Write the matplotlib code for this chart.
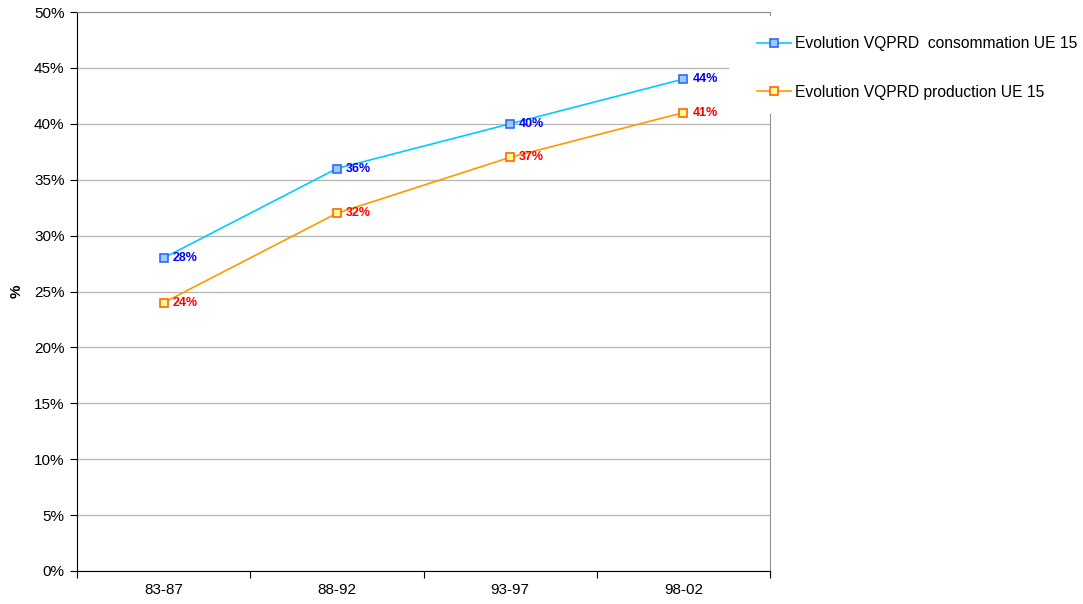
import matplotlib
matplotlib.use("Agg")
import matplotlib.pyplot as plt
from matplotlib.patches import Rectangle
from matplotlib.ticker import FixedLocator, NullFormatter

plt.rcParams['font.family'] = ['Liberation Sans', 'DejaVu Sans']

periods = ['83-87', '88-92', '93-97', '98-02']
consommation = [28, 36, 40, 44]
production = [24, 32, 37, 41]

W, H = 1083, 604
fig = plt.figure(figsize=(W / 100, H / 100), dpi=100)
ax = fig.add_axes([77 / W, 33 / H, 693 / W, 559 / H])

x = range(len(periods))
ax.plot(x, consommation, color='#00ccff', lw=1.2, marker='s', ms=6,
        mfc='#99ccff', mec='#3366ff', mew=1.2,
        label='Evolution VQPRD  consommation UE 15')
ax.plot(x, production, color='#ff9900', lw=1.2, marker='s', ms=6,
        mfc='#ffff99', mec='#ff6600', mew=1.2,
        label='Evolution VQPRD production UE 15')

for i, v in enumerate(consommation):
    ax.annotate('%d%%' % v, (i, v), xytext=(6.5, 0), textcoords='offset points',
                va='center', ha='left', fontsize=9, fontweight='bold', color='#0000ff')
for i, v in enumerate(production):
    ax.annotate('%d%%' % v, (i, v), xytext=(6.5, 0), textcoords='offset points',
                va='center', ha='left', fontsize=9, fontweight='bold', color='#ff0000')

ax.set_xlim(-0.5, 3.5)
ax.set_ylim(0, 50)
ax.set_yticks(range(0, 51, 5))
ax.set_yticklabels(['%d%%' % t for t in range(0, 51, 5)], fontsize=11)
ax.yaxis.grid(True, color='#b4b4b4', lw=0.9)
ax.set_axisbelow(True)

ax.xaxis.set_major_locator(FixedLocator([-0.5, 0.5, 1.5, 2.5, 3.5]))
ax.xaxis.set_major_formatter(NullFormatter())
ax.xaxis.set_minor_locator(FixedLocator(list(x)))
ax.set_xticklabels(periods, minor=True, fontsize=11)
ax.tick_params(axis='x', which='minor', length=0, pad=9)
ax.tick_params(axis='both', which='major', direction='out', length=5, color='black')
ax.tick_params(axis='y', pad=4)

ax.spines['top'].set_color('#909090')
ax.spines['right'].set_color('#909090')
ax.spines['left'].set_color('black')
ax.spines['bottom'].set_color('black')

ax.set_ylabel('%', fontsize=11, fontweight='bold')
ax.yaxis.set_label_coords(-53 / 693, 0.5)

# white legend area covering the plot border, as in the original
fig.add_artist(Rectangle((729 / W, 1 - 114 / H), (W - 729) / W, 98 / H,
                         transform=fig.transFigure, facecolor='white',
                         edgecolor='none', zorder=3))
fig.legend(loc='upper left', bbox_to_anchor=(757 / W, 1 - 36 / H), frameon=False,
           fontsize=11.25, handlelength=2.15, handletextpad=0.3, labelspacing=2.15,
           borderpad=0, borderaxespad=0)

fig.savefig('out.png', dpi=100, facecolor='white')
